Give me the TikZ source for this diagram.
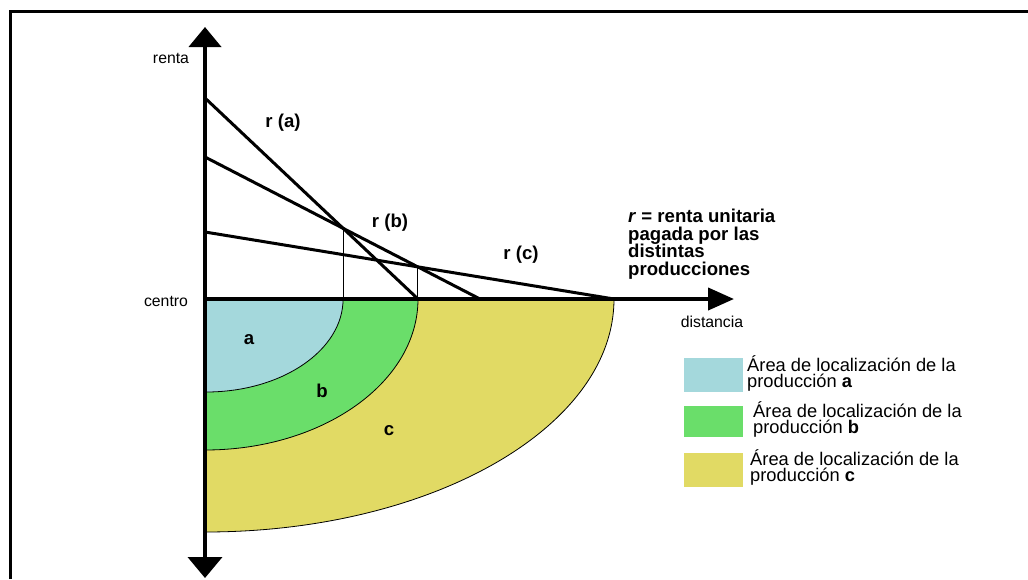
\documentclass[tikz,border=0pt]{standalone}
\usepackage{fontspec}
\setmainfont{Liberation Sans}
\usetikzlibrary{arrows.meta}
\definecolor{areaA}{RGB}{164,216,220}
\definecolor{areaB}{RGB}{106,222,106}
\definecolor{areaC}{RGB}{225,218,100}

\begin{document}
\begin{tikzpicture}[x=1pt, y=-1pt,
    axislbl/.style={font=\fontsize{15.8}{17}\selectfont},
    rlbl/.style={font=\fontsize{18.6}{17.5}\selectfont\bfseries},
    rline/.style={line width=3pt},
    zone/.style={draw=black, line width=0.8pt},
    legbox/.style={anchor=north west, minimum width=59pt, minimum height=34pt, inner sep=0pt},
    legtxt/.style={anchor=north west, inner sep=0pt, align=left, font=\fontsize{18.3}{16.8}\selectfont}]
    \useasboundingbox (0,0) rectangle (1028,579);

    % frame
    \draw[line width=3pt] (10,579) -- (10,11) -- (1028,11);

    \coordinate (O) at (205,299);
    \coordinate (ytop) at (205,27);
    \coordinate (ybot) at (205,578);
    \coordinate (xend) at (734,299);

    \coordinate (ra0) at (205,98);  \coordinate (ra1) at (418,299);
    \coordinate (rb0) at (205,157); \coordinate (rb1) at (480,299);
    \coordinate (rc0) at (205,232); \coordinate (rc1) at (614,299);
    \coordinate (iab) at (intersection of ra0--ra1 and rb0--rb1);
    \coordinate (ibc) at (intersection of rb0--rb1 and rc0--rc1);

    % location areas
    \filldraw[zone, fill=areaC] (O) -- (614,299) arc[start angle=0, end angle=-90, x radius=409pt, y radius=233pt] -- cycle;
    \filldraw[zone, fill=areaB] (O) -- (418,299) arc[start angle=0, end angle=-90, x radius=213pt, y radius=151pt] -- cycle;
    \filldraw[zone, fill=areaA] (O) -- (iab |- O) arc[start angle=0, end angle=-90, x radius=137pt, y radius=93pt] -- cycle;

    \node[rlbl] (za) at (249,340) {a};
    \node[rlbl] (zb) at (322,391) {b};
    \node[rlbl] (zc) at (389,431) {c};

    % rent lines
    \draw[rline] (ra0) -- (ra1);
    \draw[rline] (rb0) -- (rb1);
    \draw[rline] (rc0) -- (rc1);
    \draw[line width=0.9pt] (iab) -- (iab |- O);
    \draw[line width=0.9pt] (ibc) -- (ibc |- O);

    % axes
    \draw[line width=4pt, {Triangle[width=32pt,length=20pt]}-{Triangle[width=34pt,length=21pt]}] (ytop) -- (ybot);
    \draw[line width=4pt, -{Triangle[width=22pt,length=26pt]}] (O) -- (xend);

    \node[axislbl] (renta) at (171,58) {renta};
    \node[axislbl] (centro) at (166,301) {centro};
    \node[axislbl] (dist) at (712,322) {distancia};

    \node[rlbl] (la) at (283,123) {r (a)};
    \node[rlbl] (lb) at (390,223) {r (b)};
    \node[rlbl] (lc) at (521,255) {r (c)};
    \node[rlbl, anchor=north west, inner sep=0pt, align=left] (def) at (628,209) {\textit{r} = renta unitaria\\pagada por las\\distintas\\producciones};

    % legend
    \node[legbox, fill=areaA] (boxa) at (684,358) {};
    \node[legbox, fill=areaB, minimum height=31pt] (boxb) at (684,406) {};
    \node[legbox, fill=areaC] (boxc) at (684,453) {};
    \node[legtxt] (txta) at (747,355) {Área de localización de la\\producción \textbf{a}};
    \node[legtxt] (txtb) at (753,401) {Área de localización de la\\producción \textbf{b}};
    \node[legtxt] (txtc) at (750,449) {Área de localización de la\\producción \textbf{c}};
\end{tikzpicture}
\end{document}
